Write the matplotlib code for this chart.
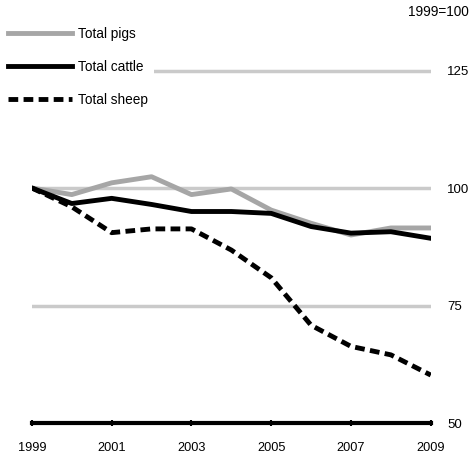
import matplotlib
matplotlib.use('Agg')
import matplotlib.pyplot as plt

plt.rcParams['font.family'] = ['Liberation Sans', 'DejaVu Sans']

# 数据 (1999=100)
years = [1999, 2000, 2001, 2002, 2003, 2004, 2005, 2006, 2007, 2008, 2009]
pigs = [100, 98.6, 101.1, 102.4, 98.6, 99.8, 95.3, 92.5, 90.0, 91.5, 91.5]
cattle = [100, 96.7, 97.8, 96.5, 95.0, 95.0, 94.6, 91.8, 90.4, 90.7, 89.3]
sheep = [100, 96.0, 90.5, 91.3, 91.3, 86.8, 80.9, 70.8, 66.3, 64.5, 60.2]
xticks = [1999, 2001, 2003, 2005, 2007, 2009]
yticks = [50, 75, 100, 125]

fig = plt.figure(figsize=(4.76, 4.61), dpi=100)
ax = fig.add_axes([0.067, 0.0824, 0.838, 0.9176])

for v in [75, 100, 125]:
    ax.axhline(v, xmin=0, xmax=1, color='#cacaca', lw=2.5, zorder=1)

ax.plot(years, pigs, color='#a6a6a6', lw=3.5, label='Total pigs', zorder=3)
ax.plot(years, cattle, color='black', lw=3.5, label='Total cattle', zorder=4)
ax.plot(years, sheep, color='black', lw=3.5, ls=(0, (2.0, 1.1)), label='Total sheep', zorder=5)

ax.set_xlim(1999, 2009)
ax.set_ylim(50, 140)
ax.set_xticks(xticks)
ax.set_yticks(yticks)
ax.yaxis.tick_right()
ax.tick_params(axis='y', length=0, pad=12, labelsize=9.5)
ax.tick_params(axis='x', length=4, width=1.5, direction='inout', pad=12, labelsize=9.2)
for s in ['left', 'top', 'right']:
    ax.spines[s].set_visible(False)
ax.spines['bottom'].set_linewidth(3)
ax.spines['bottom'].set_zorder(6)
ax.set_facecolor('none')

fig.text(0.985, 0.974, '1999=100', ha='right', va='center', fontsize=9.8)

leg = ax.legend(loc='upper left', bbox_to_anchor=(0.006, 0.953), bbox_transform=fig.transFigure,
                frameon=True, fontsize=9.8, labelspacing=1.38, handlelength=4.7,
                handletextpad=0.45, borderpad=0.4, borderaxespad=0)
leg.get_frame().set_facecolor('white')
leg.get_frame().set_edgecolor('none')
leg.get_frame().set_alpha(1)
leg.set_zorder(10)

fig.savefig('out.png', dpi=100)
